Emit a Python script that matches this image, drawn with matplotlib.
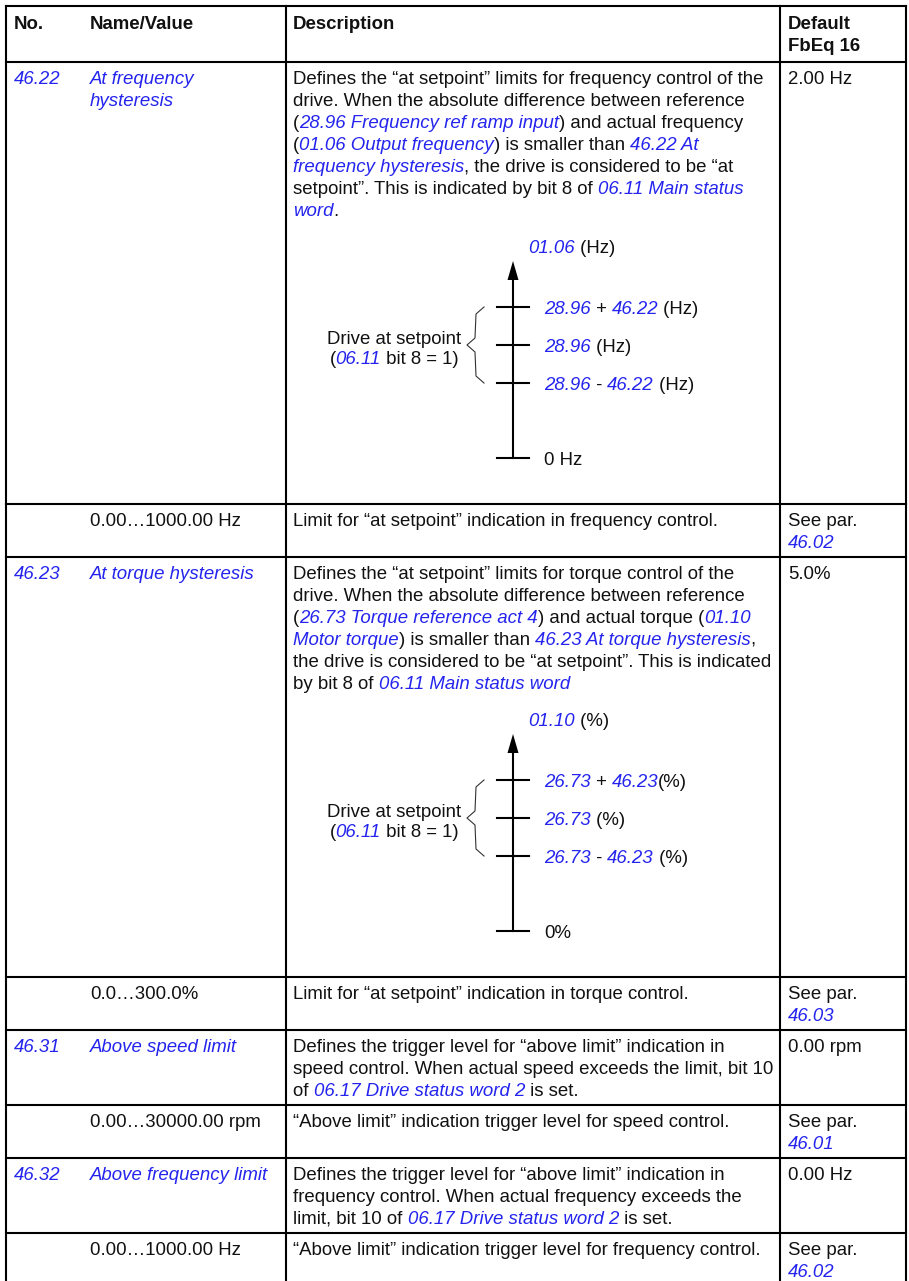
import re
import matplotlib
matplotlib.use("Agg")
import matplotlib.pyplot as plt
from matplotlib.font_manager import FontProperties

# ---------------- table content ----------------
# text in {braces} is a blue italic cross-reference
header_labels = [["No."], ["Name/Value"], ["Description"], ["Default", "FbEq 16"]]

param_numbers = ["{46.22}", "", "{46.23}", "", "{46.31}", "", "{46.32}", ""]

param_names = [
    ["{At frequency}", "{hysteresis}"],
    ["0.00…1000.00 Hz"],
    ["{At torque hysteresis}"],
    ["0.0…300.0%"],
    ["{Above speed limit}"],
    ["0.00…30000.00 rpm"],
    ["{Above frequency limit}"],
    ["0.00…1000.00 Hz"],
]

descriptions = [
    ["Defines the “at setpoint” limits for frequency control of the",
     "drive. When the absolute difference between reference",
     "({28.96 Frequency ref ramp input}) and actual frequency",
     "({01.06 Output frequency}) is smaller than {46.22 At}",
     "{frequency hysteresis}, the drive is considered to be “at",
     "setpoint”. This is indicated by bit 8 of {06.11 Main status}",
     "{word}."],
    ["Limit for “at setpoint” indication in frequency control."],
    ["Defines the “at setpoint” limits for torque control of the",
     "drive. When the absolute difference between reference",
     "({26.73 Torque reference act 4}) and actual torque ({01.10}",
     "{Motor torque}) is smaller than {46.23 At torque hysteresis},",
     "the drive is considered to be “at setpoint”. This is indicated",
     "by bit 8 of {06.11 Main status word}"],
    ["Limit for “at setpoint” indication in torque control."],
    ["Defines the trigger level for “above limit” indication in",
     "speed control. When actual speed exceeds the limit, bit 10",
     "of {06.17 Drive status word 2} is set."],
    ["“Above limit” indication trigger level for speed control."],
    ["Defines the trigger level for “above limit” indication in",
     "frequency control. When actual frequency exceeds the",
     "limit, bit 10 of {06.17 Drive status word 2} is set."],
    ["“Above limit” indication trigger level for frequency control."],
]

defaults = [
    ["2.00 Hz"],
    ["See par.", "{46.02}"],
    ["5.0%"],
    ["See par.", "{46.03}"],
    ["0.00 rpm"],
    ["See par.", "{46.01}"],
    ["0.00 Hz"],
    ["See par.", "{46.02}"],
]

# rows that contain a hysteresis diagram -> diagram index
diagram_rows = {0: 0, 2: 1}
diagram_axis_labels = ["{01.06} (Hz)", "{01.10} (%)"]
diagram_level_labels = [
    ["{28.96} + {46.22} (Hz)", "{28.96} (Hz)", "{28.96} - {46.22} (Hz)", "0 Hz"],
    ["{26.73} + {46.23}(%)", "{26.73} (%)", "{26.73} - {46.23} (%)", "0%"],
]
setpoint_note = ["Drive at setpoint", "({06.11} bit 8 = 1)"]

# ---------------- layout / style ----------------
W, H = 909, 1281
COL_LINES = [6, 286, 780, 906]          # vertical rules (no rule between No. and Name)
TEXT_X = [14, 90, 293, 788]
TOP = 6
HEADER_H = 56
LINE_H = 22
FIRST_C = 15
BOTTOM_PAD = 16
DIAGRAM_PAD = 295
BASE_OFF = 6.6
FS = 13.4
LW = 1.5
BLUE = "#2424ee"
BLACK = "#111111"
FAMILY = ["Liberation Sans", "DejaVu Sans"]

fig = plt.figure(figsize=(W / 100, H / 100), dpi=100)
ax = fig.add_axes([0, 0, 1, 1])
ax.set_xlim(0, W)
ax.set_ylim(H, 0)
ax.axis("off")
renderer = fig.canvas.get_renderer()

FP = {
    "plain": FontProperties(family=FAMILY, size=FS),
    "link": FontProperties(family=FAMILY, size=FS, style="italic"),
    "bold": FontProperties(family=FAMILY, size=FS, weight="bold"),
}


def advance(s, fp):
    w1, _, _ = renderer.get_text_width_height_descent("|" + s + "|", fp, ismath=False)
    w0, _, _ = renderer.get_text_width_height_descent("||", fp, ismath=False)
    return w1 - w0


def parse(markup, base="plain"):
    runs = []
    for part in re.split(r"(\{[^}]*\})", markup):
        if not part:
            continue
        if part.startswith("{"):
            runs.append((part[1:-1], "link"))
        else:
            runs.append((part, base))
    return runs


def draw_runs(x, center_y, markup, base="plain", align="left"):
    runs = parse(markup, base)
    widths = [advance(s, FP[st]) for s, st in runs]
    if align == "center":
        x = x - sum(widths) / 2
    for (s, st), w in zip(runs, widths):
        ax.text(x, center_y + BASE_OFF, s, fontproperties=FP[st],
                color=BLUE if st == "link" else BLACK, va="baseline", ha="left")
        x += w


def hline(y):
    ax.plot([COL_LINES[0], COL_LINES[-1]], [y, y], color="black", lw=LW,
            solid_capstyle="projecting")


def draw_diagram(k, last_c):
    axx = 513
    tip = last_c + 52
    head = tip + 19
    t0 = last_c + 98
    step = 38
    ticks = [t0, t0 + step, t0 + 2 * step, t0 + 2 * step + 75]
    # axis + arrow
    ax.plot([axx, axx], [head - 1, ticks[-1]], color="black", lw=LW)
    ax.fill([axx - 5.5, axx, axx + 5.5], [head, tip, head], color="black", lw=0)
    draw_runs(528, last_c + 37, diagram_axis_labels[k])
    for ty, lab in zip(ticks, diagram_level_labels[k]):
        ax.plot([axx - 16, axx + 16], [ty, ty], color="black", lw=LW)
        draw_runs(544, ty, lab)
    # brace spanning the three setpoint ticks
    yt, ym, yb = ticks[0], ticks[1], ticks[2]
    bx = [484, 476, 475, 467, 475, 476, 484]
    by = [yt, yt + 7, ym - 7, ym, ym + 7, yb - 7, yb]
    ax.plot(bx, by, color="#333333", lw=0.8)
    draw_runs(394, ym - 8, setpoint_note[0], align="center")
    draw_runs(394, ym + 12.5, setpoint_note[1], align="center")


# header
for x, lines in zip(TEXT_X, header_labels):
    for j, s in enumerate(lines):
        draw_runs(x, TOP + 16 + j * 22.5, s, base="bold")
hline(TOP)
y = TOP + HEADER_H
hline(y)

for i in range(len(descriptions)):
    n = max(len(param_names[i]), len(descriptions[i]), len(defaults[i]))
    first = y + FIRST_C
    cols = [[param_numbers[i]] if param_numbers[i] else [],
            param_names[i], descriptions[i], defaults[i]]
    for x, lines in zip(TEXT_X, cols):
        for j, s in enumerate(lines):
            draw_runs(x, first + j * LINE_H, s)
    last = first + (n - 1) * LINE_H
    if i in diagram_rows:
        draw_diagram(diagram_rows[i], last)
        bottom = last + DIAGRAM_PAD
    else:
        bottom = last + BOTTOM_PAD
    if bottom < H:
        hline(bottom)
    y = bottom

for x in COL_LINES:
    ax.plot([x, x], [TOP, H + 5], color="black", lw=LW, solid_capstyle="projecting")

fig.savefig("out.png", dpi=100)
